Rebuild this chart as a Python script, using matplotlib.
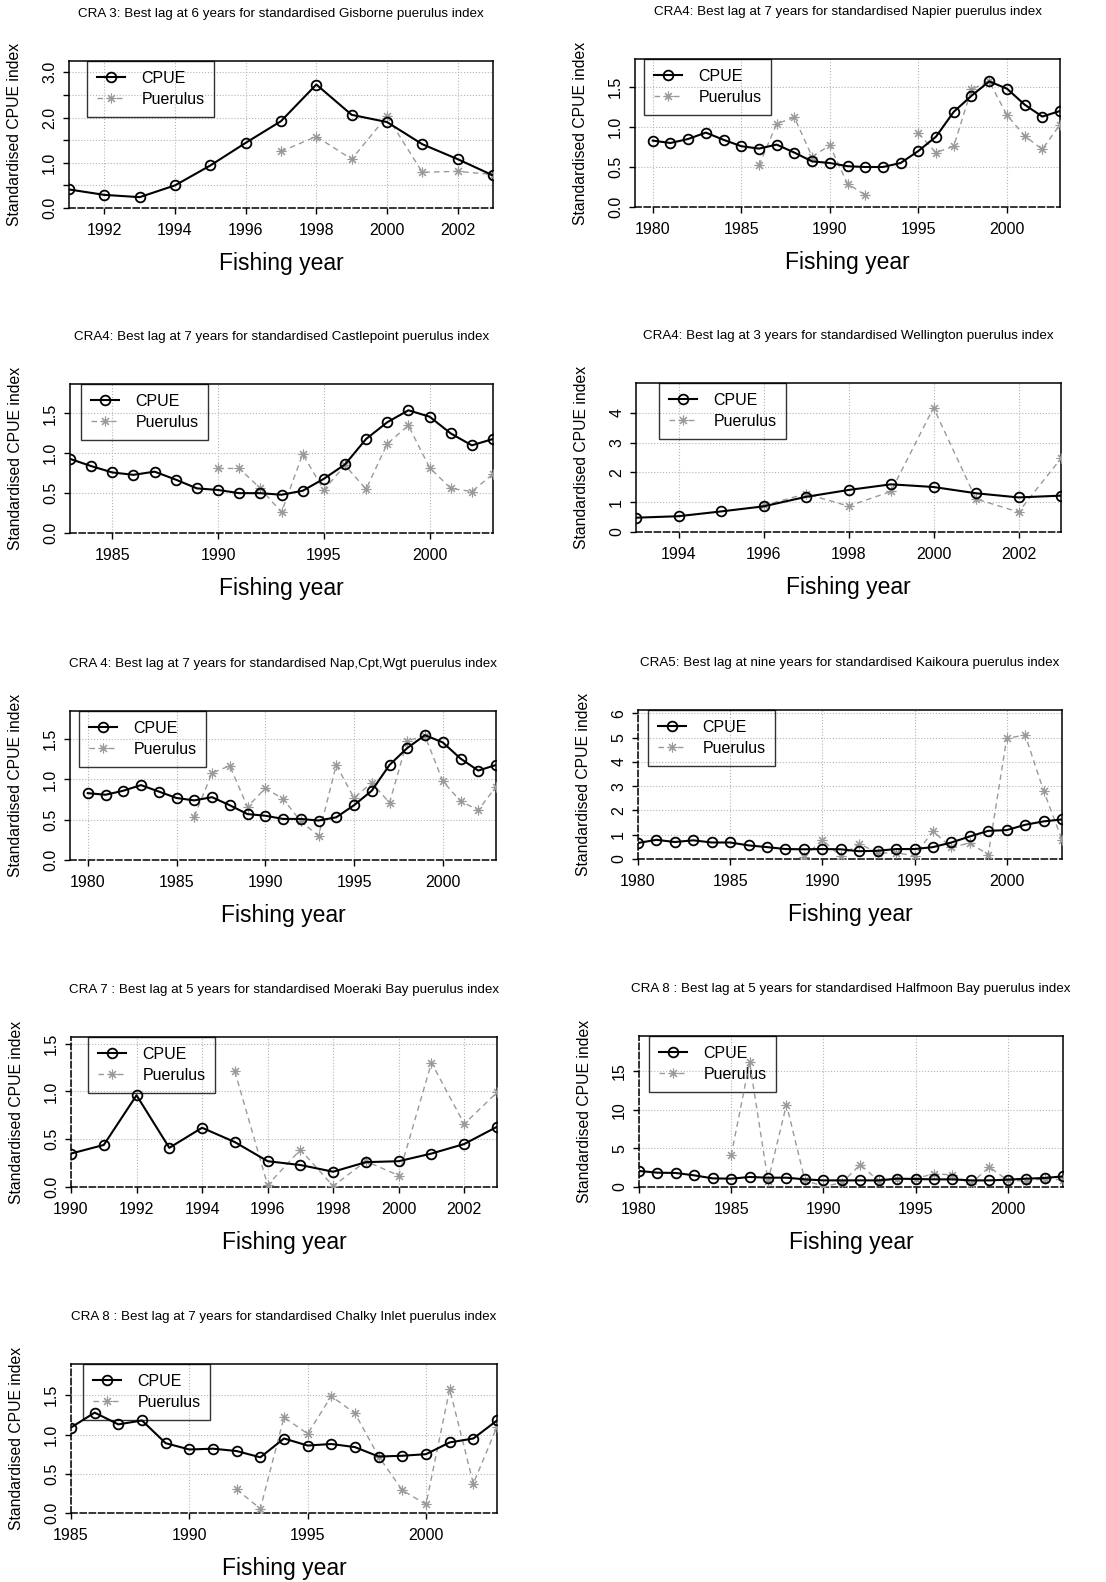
import numpy as np
import matplotlib.pyplot as plt

plt.rcParams['font.family'] = ['Liberation Sans', 'DejaVu Sans']
nan = np.nan

# values
gis_years = list(range(1991, 2004))
gis_cpue = [0.41, 0.29, 0.24, 0.50, 0.94, 1.44, 1.92, 2.73, 2.06, 1.90, 1.41, 1.08, 0.72]
gis_puer = [nan, nan, nan, nan, nan, nan, 1.25, 1.58, 1.08, 2.03, 0.79, 0.81, 0.74]

nap_years = list(range(1980, 2004))
nap_cpue = [0.83, 0.80, 0.85, 0.93, 0.84, 0.76, 0.73, 0.78, 0.68, 0.57, 0.55, 0.51,
            0.50, 0.50, 0.55, 0.70, 0.88, 1.19, 1.39, 1.57, 1.48, 1.28, 1.13, 1.20]
nap_puer = [nan, nan, nan, nan, nan, nan, 0.52, 1.04, 1.12, 0.63, 0.77, 0.29,
            0.15, nan, nan, 0.92, 0.68, 0.76, 1.47, 1.57, 1.15, 0.89, 0.72, 1.03]

cpt_years = list(range(1983, 2004))
cpt_cpue = [0.93, 0.84, 0.76, 0.73, 0.77, 0.67, 0.56, 0.54, 0.50, 0.50, 0.48,
            0.53, 0.68, 0.86, 1.18, 1.39, 1.54, 1.46, 1.25, 1.10, 1.18]
cpt_puer = [nan, nan, nan, nan, nan, nan, nan, 0.81, 0.81, 0.56, 0.26,
            0.99, 0.54, 0.85, 0.55, 1.12, 1.35, 0.82, 0.56, 0.52, 0.74]

wgt_years = list(range(1993, 2004))
wgt_cpue = [0.48, 0.53, 0.69, 0.86, 1.18, 1.41, 1.60, 1.51, 1.30, 1.16, 1.22]
wgt_puer = [nan, nan, nan, 0.89, 1.28, 0.87, 1.36, 4.17, 1.11, 0.67, 2.47]

ncw_years = list(range(1980, 2004))
ncw_cpue = [0.83, 0.81, 0.86, 0.93, 0.85, 0.77, 0.74, 0.78, 0.68, 0.57, 0.55, 0.51,
            0.51, 0.49, 0.53, 0.68, 0.86, 1.18, 1.39, 1.55, 1.46, 1.26, 1.11, 1.18]
ncw_puer = [nan, nan, nan, nan, nan, nan, 0.54, 1.08, 1.17, 0.66, 0.89, 0.76,
            0.48, 0.30, 1.18, 0.77, 0.96, 0.71, 1.48, 1.54, 0.98, 0.73, 0.62, 0.91]

kai_years = list(range(1980, 2004))
kai_cpue = [0.66, 0.79, 0.70, 0.77, 0.68, 0.68, 0.56, 0.49, 0.41, 0.40, 0.41, 0.40,
            0.32, 0.34, 0.41, 0.41, 0.49, 0.68, 0.93, 1.16, 1.19, 1.41, 1.55, 1.63]
kai_puer = [nan, nan, nan, nan, nan, nan, nan, nan, nan, 0.07, 0.79, 0.11,
            0.63, 0.25, 0.25, 0.14, 1.14, 0.48, 0.66, 0.18, 4.97, 5.11, 2.82, 0.79]

moe_years = list(range(1990, 2004))
moe_cpue = [0.35, 0.44, 0.96, 0.41, 0.62, 0.47, 0.27, 0.23, 0.16, 0.26, 0.27, 0.35, 0.45, 0.63]
moe_puer = [nan, nan, nan, nan, nan, 1.21, 0.02, 0.39, 0.01, 0.27, 0.12, 1.30, 0.66, 0.99]

hmb_years = list(range(1980, 2004))
hmb_cpue = [2.08, 1.86, 1.82, 1.51, 1.12, 1.08, 1.30, 1.21, 1.21, 0.99, 0.86, 0.86,
            0.86, 0.86, 1.08, 1.04, 0.99, 0.99, 0.86, 0.86, 0.95, 1.08, 1.17, 1.38]
hmb_puer = [nan, nan, nan, nan, nan, 4.1, 16.2, 0.78, 10.7, 0.86, 0.09, 0.52,
            2.9, 0.78, 1.08, 1.08, 1.73, 1.56, 0.43, 2.6, 0.86, 0.78, 1.08, 0.95]

chi_years = list(range(1985, 2004))
chi_cpue = [1.09, 1.28, 1.13, 1.18, 0.89, 0.81, 0.82, 0.79, 0.71, 0.95,
            0.86, 0.88, 0.84, 0.72, 0.73, 0.75, 0.90, 0.95, 1.18]
chi_puer = [nan, nan, nan, nan, nan, nan, nan, 0.30, 0.055, 1.22,
            1.01, 1.49, 1.27, 0.72, 0.29, 0.11, 1.58, 0.375, 1.10]

titles = [
    'CRA 3: Best lag at 6 years for standardised Gisborne puerulus index',
    'CRA4: Best lag at 7 years for standardised Napier puerulus index',
    'CRA4: Best lag at 7 years for standardised Castlepoint puerulus index',
    'CRA4: Best lag at 3 years for standardised Wellington puerulus index',
    'CRA 4: Best lag at 7 years for standardised Nap,Cpt,Wgt puerulus index',
    'CRA5: Best lag at nine years for standardised Kaikoura puerulus index',
    'CRA 7 : Best lag at 5 years for standardised Moeraki Bay puerulus index',
    'CRA 8 : Best lag at 5 years for standardised Halfmoon Bay puerulus index',
    'CRA 8 : Best lag at 7 years for standardised Chalky Inlet puerulus index',
]

W, H = 1106, 1582
# (left, right, top, bottom) in pixels
boxes = [(69, 493, 61, 208), (635, 1060, 59, 207),
         (70, 493, 384, 533), (636, 1061, 383, 532),
         (70, 496, 711, 860), (638, 1062, 710, 859),
         (71, 497, 1037, 1187), (639, 1063, 1036, 1187),
         (71, 497, 1364, 1513)]

panels = [
    (gis_years, gis_cpue, gis_puer, (1991, 2003), 3.25, range(1992, 2003, 2), [0, 0.5, 1, 1.5, 2, 2.5, 3], ['0.0', '', '1.0', '', '2.0', '', '3.0'], 18, False),
    (nap_years, nap_cpue, nap_puer, (1979, 2003), 1.85, range(1980, 2001, 5), [0, 0.5, 1, 1.5], ['0.0', '0.5', '1.0', '1.5'], 9, False),
    (cpt_years, cpt_cpue, cpt_puer, (1983, 2003), 1.87, range(1985, 2001, 5), [0, 0.5, 1, 1.5], ['0.0', '0.5', '1.0', '1.5'], 11, False),
    (wgt_years, wgt_cpue, wgt_puer, (1993, 2003), 5.0, range(1994, 2003, 2), [0, 1, 2, 3, 4], ['0', '1', '2', '3', '4'], 23, False),
    (ncw_years, ncw_cpue, ncw_puer, (1979, 2003), 1.85, range(1980, 2001, 5), [0, 0.5, 1, 1.5], ['0.0', '0.5', '1.0', '1.5'], 9, False),
    (kai_years, kai_cpue, kai_puer, (1980, 2003), 6.14, range(1980, 2001, 5), [0, 1, 2, 3, 4, 5, 6], ['0', '1', '2', '3', '4', '5', '6'], 10, True),
    (moe_years, moe_cpue, moe_puer, (1990, 2003), 1.57, range(1990, 2003, 2), [0, 0.5, 1, 1.5], ['0.0', '0.5', '1.0', '1.5'], 17, True),
    (hmb_years, hmb_cpue, hmb_puer, (1980, 2003), 19.6, range(1980, 2001, 5), [0, 5, 10, 15], ['0', '5', '10', '15'], 10, True),
    (chi_years, chi_cpue, chi_puer, (1985, 2003), 1.90, range(1985, 2001, 5), [0, 0.5, 1, 1.5], ['0.0', '0.5', '1.0', '1.5'], 12, True),
]

fig = plt.figure(figsize=(W / 100, H / 100), dpi=100)

for i, (yrs, cpue, puer, xl, ytop, xt, yt, ytl, legx, leftdash) in enumerate(panels):
    l, r, t, b = boxes[i]
    aw, ah = r - l, b - t
    ax = fig.add_axes([l / W, 1 - b / H, aw / W, ah / H])
    ax.grid(True, ls=':', color='#b5b5b5', lw=0.8)
    ax.set_axisbelow(True)
    hp, = ax.plot(yrs, puer, color='#9a9a9a', ls='--', lw=1.0, marker=(8, 2, 0),
                  ms=7, mew=0.8, dashes=(4, 3), zorder=3)
    hc, = ax.plot(yrs, cpue, color='black', lw=1.5, marker='o', mfc='none',
                  ms=7, mew=1.3, zorder=4)
    ax.set_xlim(*xl)
    ax.set_ylim(0, ytop)
    ax.set_xticks(list(xt))
    ax.set_yticks(yt)
    ax.set_yticklabels(ytl, rotation=90, va='center')
    ax.tick_params(direction='out', length=4.5, width=1, labelsize=11.5, colors='black')
    ax.tick_params(axis='x', pad=6)
    ax.tick_params(axis='y', pad=4)
    for s in ax.spines.values():
        s.set_linewidth(1.1)
    ax.spines['bottom'].set_linestyle((0, (4, 2)))
    if leftdash:
        ax.spines['left'].set_linestyle((0, (4, 2)))
    ax.set_ylabel('Standardised CPUE index', fontsize=11.3)
    ax.yaxis.set_label_coords(-47 / aw, 0.5)
    ax.set_xlabel('Fishing year', fontsize=16.5)
    ax.xaxis.set_label_coords(0.5, -44 / ah)
    # R-style legend: transparent box, drawn under the lines
    leg = ax.legend([hc, hp], ['CPUE', 'Puerulus'], loc='upper left',
                    bbox_to_anchor=(legx / aw, 1.0), borderaxespad=0,
                    fontsize=11.5, fancybox=False, facecolor='none', framealpha=None,
                    edgecolor='black', handlelength=1.8, handletextpad=1.0,
                    labelspacing=0.4, borderpad=0.6)
    leg.get_frame().set_linewidth(1.0)
    leg.set_zorder(2.5)
    fig.text((l + r) / 2 / W, 1 - (t - 47) / H, titles[i], ha='center', va='center',
             fontsize=9.6)

plt.savefig('out.png', dpi=100)
